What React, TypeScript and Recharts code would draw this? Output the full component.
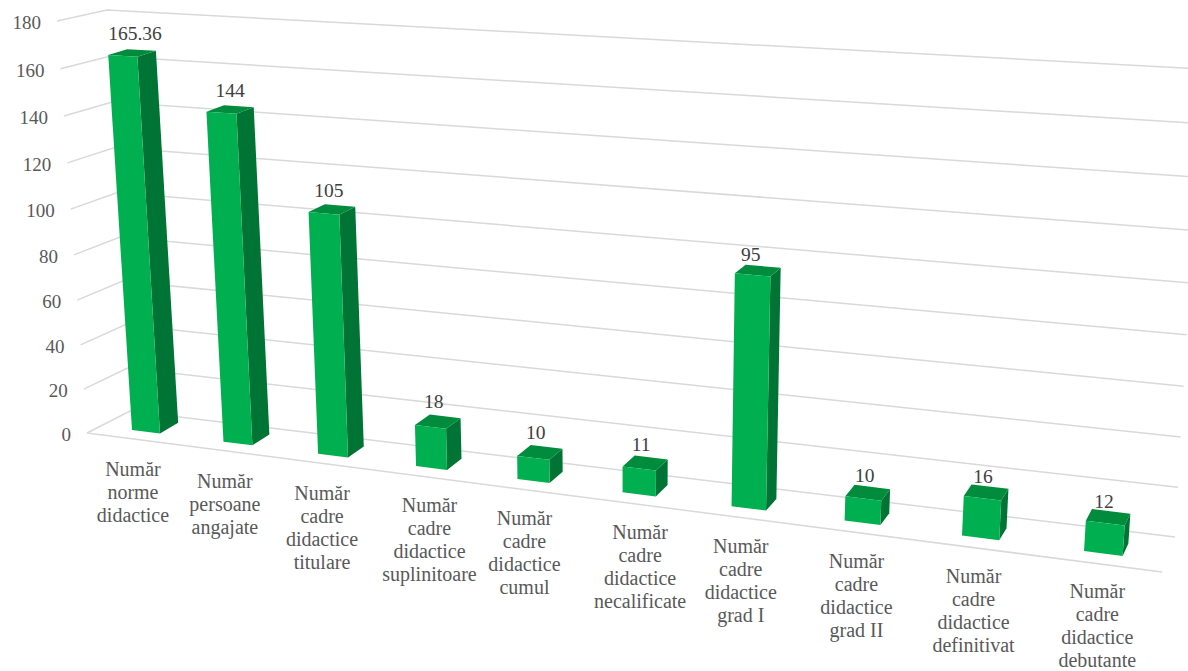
import { Bar, BarChart, CartesianGrid, LabelList, XAxis, YAxis } from "recharts";

const categories = [
  "Număr|norme|didactice",
  "Număr|persoane|angajate",
  "Număr|cadre|didactice|titulare",
  "Număr|cadre|didactice|suplinitoare",
  "Număr|cadre|didactice|cumul",
  "Număr|cadre|didactice|necalificate",
  "Număr|cadre|didactice|grad I",
  "Număr|cadre|didactice|grad II",
  "Număr|cadre|didactice|definitivat",
  "Număr|cadre|didactice|debutante",
];
const values = [165.36, 144, 105, 18, 10, 11, 95, 10, 16, 12];
const yTicks = [0, 20, 40, 60, 80, 100, 120, 140, 160, 180];
const data = categories.map((name, i) => ({ name, value: values[i] }));

// plot box inside the svg, must agree with margins + axis sizes below
const W = 1188;
const H = 671;
const PL = 60;
const PT = 20;
const PW = 1100;
const PH = 620;
const BAR = 34;
const PB = PT + PH;
const FONT = "'Liberation Serif', 'Times New Roman', serif";

type Pt = [number, number];

// unit square -> quad (perspective)
function quad(p00: Pt, p10: Pt, p11: Pt, p01: Pt) {
  const [x0, y0] = p00;
  const [x1, y1] = p10;
  const [x2, y2] = p11;
  const [x3, y3] = p01;
  const dx1 = x1 - x2;
  const dx2 = x3 - x2;
  const sx = x0 - x1 + x2 - x3;
  const dy1 = y1 - y2;
  const dy2 = y3 - y2;
  const sy = y0 - y1 + y2 - y3;
  const den = dx1 * dy2 - dx2 * dy1;
  const g = (sx * dy2 - dx2 * sy) / den;
  const h = (dx1 * sy - sx * dy1) / den;
  const a = x1 - x0 + g * x1;
  const b = x3 - x0 + h * x3;
  const d = y1 - y0 + g * y1;
  const e = y3 - y0 + h * y3;
  return (u: number, v: number): Pt => {
    const q = g * u + h * v + 1;
    return [(a * u + b * v + x0) / q, (d * u + e * v + y0) / q];
  };
}

// back wall, front rim of the floor, and the plane of the bar fronts
const wall = quad([130, 411], [1175, 537], [1202, 69], [107, 10]);
const rim = quad([87, 433], [1162, 572], [1191, 82], [57, 21]);
const front = quad([132, 430], [1084, 551], [1113, 72], [106, 20]);

const firstLeft = PL + PW / 20 - BAR / 2;
const lastLeft = PL + (PW * 19) / 20 - BAR / 2;
const toFront = (x: number, y: number) =>
  front((x - firstLeft) / (lastLeft - firstLeft), (PB - y) / PH);

// depth of the boxes runs toward this vanishing point
const VP: Pt = [1560, -390];
const DEPTH = 0.013;
const back = ([x, y]: Pt): Pt => [x + (VP[0] - x) * DEPTH, y + (VP[1] - y) * DEPTH];
const pts = (list: Pt[]) => list.map((p) => p.join(",")).join(" ");

// text does not sit on a clean line in the original, small per-label shifts
const tickShift = [-13, -13, -11, -2, -9, 1, -8, -6, -7, -6];
const labelShift = [3, 0, -3, -4, -4, -4, -7, -3, -3, -4];

function Box3D(props: any) {
  const { x, y, width, height } = props;
  const a = toFront(x, y + height);
  const b = toFront(x + width, y + height);
  const c = toFront(x + width, y);
  const d = toFront(x, y);
  return (
    <g>
      <polygon points={pts([b, back(b), back(c), c])} fill="#007434" />
      <polygon points={pts([d, c, back(c), back(d)])} fill="#008B3D" />
      <polygon points={pts([a, b, c, d])} fill="#00B050" />
    </g>
  );
}

function ValueLabel(props: any) {
  const { x, y, width, value, index } = props;
  const d = toFront(x, y);
  const c = back(toFront(x + width, y));
  const s = index / 9;
  const cx = (d[0] + c[0]) / 2 + labelShift[index];
  const top = back(d)[1];
  return (
    <text x={cx} y={top - 9 + 8 * s} textAnchor="middle" fontFamily={FONT} fontSize={19.5} fill="#404040">
      {value}
    </text>
  );
}

function CategoryTick(props: any) {
  const { x, index, payload } = props;
  const p = toFront(x, PB);
  const lines: string[] = String(payload.value).split("|");
  return (
    <text textAnchor="middle" fontFamily={FONT} fontSize={20} fill="#595959">
      {lines.map((l, i) => (
        <tspan key={i} x={p[0] + tickShift[index]} y={p[1] + 44 + index / 9 + i * 23}>
          {l}
        </tspan>
      ))}
    </text>
  );
}

function ValueTick(props: any) {
  const { y, payload } = props;
  const p = rim(0, (PB - y) / PH);
  return (
    <text x={p[0] - 16} y={p[1] + 8} textAnchor="end" fontFamily={FONT} fontSize={19} fill="#595959">
      {payload.value}
    </text>
  );
}

function GridLine(props: any) {
  const v = (PB - props.y1) / PH;
  const line = [rim(0, v), wall(0, v), wall(1, v)];
  return (
    <g key={props.key}>
      <polyline points={pts(line)} fill="none" stroke="#D9D9D9" strokeWidth={1.5} />
      {v < 0.001 && <polyline points={pts([rim(0, 0), rim(1, 0)])} fill="none" stroke="#D9D9D9" strokeWidth={1.5} />}
    </g>
  );
}

export default function App() {
  return (
    <div style={{ position: "absolute", left: 0, top: 0, width: W, height: H, overflow: "hidden", background: "#fff" }}>
      <BarChart
        width={W}
        height={H}
        data={data}
        margin={{ top: PT, right: W - PL - PW, bottom: 0, left: 0 }}
        barSize={BAR}
      >
        <CartesianGrid vertical={false} horizontal={GridLine} />
        <XAxis dataKey="name" height={H - PB} axisLine={false} tickLine={false} interval={0} tick={CategoryTick} />
        <YAxis width={PL} domain={[0, 180]} ticks={yTicks} axisLine={false} tickLine={false} tick={ValueTick} />
        <Bar dataKey="value" isAnimationActive={false} shape={Box3D}>
          <LabelList dataKey="value" content={ValueLabel} />
        </Bar>
      </BarChart>
    </div>
  );
}
